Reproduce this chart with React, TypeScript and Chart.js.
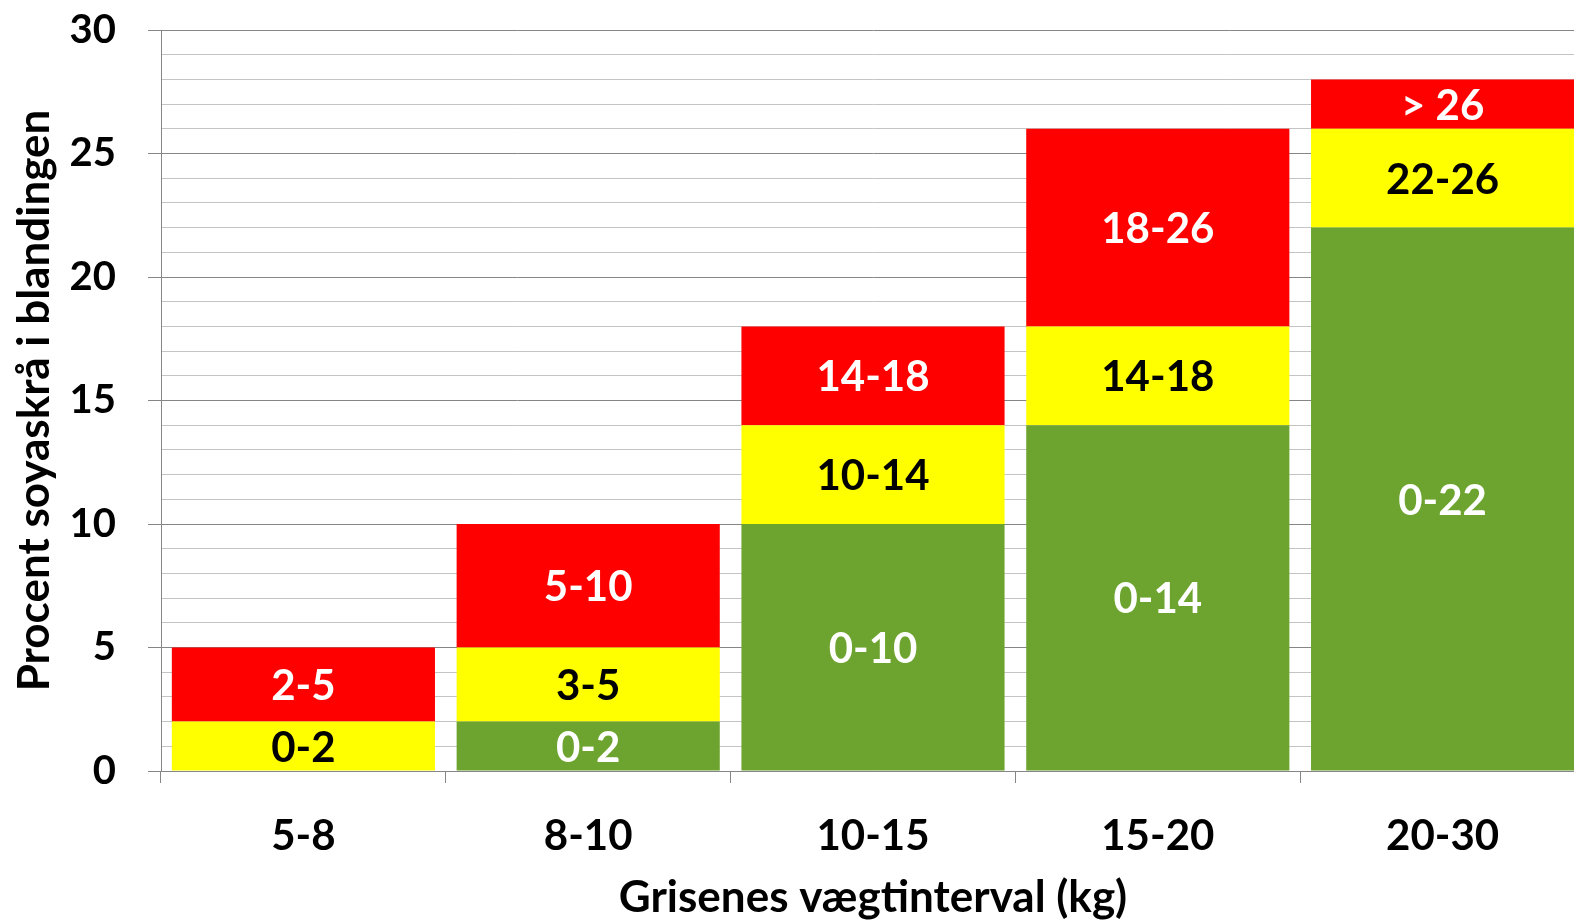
import React, { useEffect, useRef } from "react";
import { Chart, registerables } from "chart.js";

Chart.register(...registerables);

const categories = ["5-8", "8-10", "10-15", "15-20", "20-30"];
const greenValues = [0, 2, 10, 14, 22];
const yellowValues = [2, 3, 4, 4, 4];
const redValues = [3, 5, 4, 8, 2];
const greenLabels = ["", "0-2", "0-10", "0-14", "0-22"];
const yellowLabels = ["0-2", "3-5", "10-14", "14-18", "22-26"];
const redLabels = ["2-5", "5-10", "14-18", "18-26", "> 26"];
const yTitle = "Procent soyaskrå i blandingen";
const xTitle = "Grisenes vægtinterval (kg)";

const FONT = "Lato";

const segmentLabels = {
  id: "segmentLabels",
  afterDatasetsDraw(chart: any) {
    const ctx = chart.ctx;
    ctx.save();
    ctx.font = `bold 42px ${FONT}`;
    ctx.textAlign = "center";
    ctx.textBaseline = "middle";
    chart.data.datasets.forEach((ds: any, di: number) => {
      const meta = chart.getDatasetMeta(di);
      meta.data.forEach((el: any, i: number) => {
        const txt = ds.segLabels[i];
        if (!txt) return;
        const props = el.getProps(["x", "y", "base"], true);
        ctx.fillStyle = ds.labelColor;
        ctx.fillText(txt, props.x, (props.y + props.base) / 2 + 2);
      });
    });
    ctx.restore();
  },
};

export default function App() {
  const ref = useRef<HTMLCanvasElement>(null);
  useEffect(() => {
    const chart = new Chart(ref.current!, {
      type: "bar",
      data: {
        labels: categories,
        datasets: [
          { data: greenValues, backgroundColor: "#6DA42F", segLabels: greenLabels, labelColor: "#ffffff" } as any,
          { data: yellowValues, backgroundColor: "#FFFF00", segLabels: yellowLabels, labelColor: "#000000" } as any,
          { data: redValues, backgroundColor: "#FF0000", segLabels: redLabels, labelColor: "#ffffff" } as any,
        ],
      },
      options: {
        responsive: false,
        animation: false,
        layout: { padding: { top: 30, left: 0, right: 0, bottom: 0 } },
        datasets: { bar: { categoryPercentage: 1, barPercentage: 0.924 } },
        plugins: { legend: { display: false }, tooltip: { enabled: false } },
        scales: {
          x: {
            stacked: true,
            offset: true,
            grid: {
              display: true,
              drawOnChartArea: false,
              offset: true,
              tickLength: 12,
              color: "#868686",
              tickColor: "#868686",
            },
            border: { color: "#868686", width: 1 },
            ticks: { color: "#000", font: { family: FONT, size: 42, weight: "bold" }, padding: 28 },
            title: {
              display: true,
              text: xTitle,
              color: "#000",
              font: { family: FONT, size: 44, weight: "bold" },
              padding: { top: 0, bottom: 0 },
            },
            afterFit(scale: any) {
              scale.height = 153;
              scale.paddingLeft = 0;
              scale.paddingRight = 0;
            },
          },
          y: {
            stacked: true,
            min: 0,
            max: 30,
            grid: {
              color: (c: any) => (c.tick && c.tick.value % 5 === 0 ? "#868686" : "#C4C4C4"),
              tickColor: (c: any) => (c.tick && c.tick.value % 5 === 0 ? "#868686" : "rgba(0,0,0,0)"),
              tickLength: 13,
              lineWidth: 1,
            },
            border: { color: "#868686", width: 1 },
            ticks: {
              stepSize: 1,
              autoSkip: false,
              color: "#000",
              padding: 32,
              font: { family: FONT, size: 40, weight: "bold" },
              callback: (v: any) => (Number(v) % 5 === 0 ? String(v) : ""),
            },
            title: {
              display: true,
              text: yTitle,
              color: "#000",
              font: { family: FONT, size: 44, weight: "bold" },
              padding: { top: 8, bottom: 0 },
            },
            afterFit(scale: any) {
              scale.width = 161;
              scale.paddingTop = 0;
              scale.paddingBottom = 0;
            },
          },
        },
      },
      plugins: [segmentLabels],
    } as any);
    return () => chart.destroy();
  }, []);
  return (
    <div style={{ position: "fixed", left: 0, top: 0, width: 1574, height: 924, overflow: "hidden", background: "#fff" }}>
      <canvas ref={ref} width={1585} height={924} style={{ display: "block" }} />
    </div>
  );
}
